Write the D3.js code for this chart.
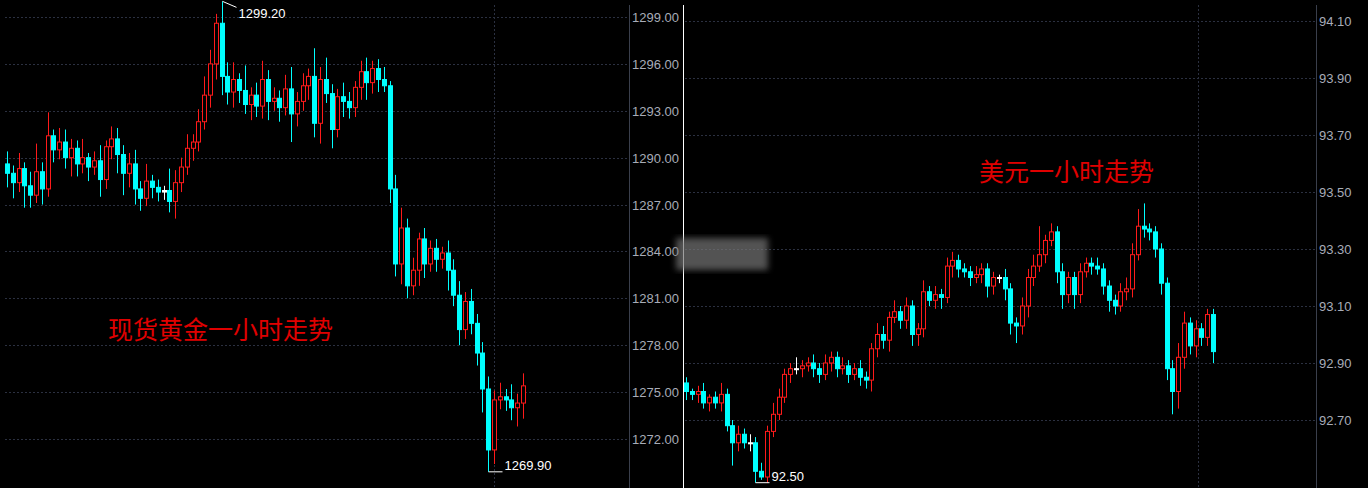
<!DOCTYPE html>
<html><head><meta charset="utf-8">
<script src="https://cdn.jsdelivr.net/npm/d3@7"></script>
<style>body{margin:0;background:#000}svg{display:block}</style>
</head><body><svg id="c" width="1368" height="488"></svg>
<script>
// gold, 1h closes (open = previous close)
const goldOpen0 = 1289.6;
const goldClose = [1289.0,1288.4,1289.3,1288.2,1287.6,1289.1,1288.0,1291.4,1290.5,1291.0,
  1290.0,1290.6,1289.6,1290.0,1289.4,1289.8,1288.6,1290.7,1291.2,1290.2,
  1289.0,1289.6,1288.0,1287.4,1288.5,1288.1,1287.8,1287.9,1287.2,1288.4,
  1289.4,1290.6,1291.0,1292.3,1294.0,1296.0,1298.6,1295.2,1294.2,1295.0,
  1294.3,1293.4,1294.0,1293.3,1295.0,1293.6,1293.8,1293.2,1294.4,1292.8,
  1293.6,1294.6,1295.2,1292.2,1295.0,1294.1,1291.8,1293.9,1293.6,1293.2,
  1294.5,1295.5,1294.8,1295.7,1295.0,1294.6,1288.0,1283.2,1285.5,1281.8,
  1282.8,1284.8,1283.2,1284.2,1283.5,1283.9,1282.8,1281.2,1279.0,1280.8,
  1279.4,1277.5,1275.2,1271.3,1274.5,1274.7,1274.5,1274.0,1274.3,1275.4];
const goldUp = [0.8,0.5,1.0,0.4,0.9,1.8,0.6,1.5,0.4,0.9,0.8,0.6,0.5,1.2,0.3,0.6,1.0,0.4,0.8,0.7,
  0.6,0.7,0.9,0.5,1.1,0.4,0.5,0.3,1.4,0.8,0.6,0.9,0.5,0.8,1.2,0.9,0.6,1.4,0.9,1.1,
  0.4,1.6,0.5,0.8,1.2,0.6,0.7,0.5,0.9,1.4,0.6,0.8,0.5,1.8,0.8,1.4,0.6,0.5,0.9,0.6,
  0.4,0.7,0.9,0.5,0.6,0.8,0.3,0.9,1.3,0.6,0.8,0.4,0.7,0.5,0.6,0.4,0.8,0.7,0.9,0.6,
  0.8,0.6,0.7,0.8,0.6,0.9,0.5,1.0,0.6,0.8];
const goldDown = [0.9,1.0,0.6,1.4,0.8,0.5,1.0,0.5,0.8,0.6,0.7,1.2,0.8,0.6,0.9,0.5,1.1,0.6,0.8,1.2,
  1.4,0.9,1.0,0.8,0.5,0.7,0.6,0.5,0.7,1.1,0.6,0.5,0.8,0.6,0.5,0.8,1.0,1.2,0.8,1.0,
  0.8,0.6,1.0,0.7,0.8,1.2,0.6,0.9,0.5,1.8,0.8,0.6,0.9,0.9,1.3,0.6,1.2,0.5,1.0,0.7,
  0.6,0.8,1.1,0.7,0.8,0.4,0.9,0.8,1.3,0.8,0.6,1.0,0.9,0.5,0.8,0.6,1.3,0.7,1.0,0.6,
  0.7,0.8,1.5,1.4,0.9,0.6,0.7,0.8,1.2,1.0];
const goldTicks = [1299,1296,1293,1290,1287,1284,1281,1278,1275,1272];

// dollar index, 1h closes
const usdOpen0 = 92.83;
const usdClose = [92.80,92.79,92.80,92.76,92.78,92.76,92.79,92.68,92.62,92.65,92.62,92.62,
  92.52,92.50,92.66,92.72,
  92.78,92.86,92.88,92.88,92.89,92.90,92.88,92.86,92.90,92.92,
  92.88,92.89,92.86,92.88,92.85,92.84,92.95,93.00,92.98,93.06,
  93.08,93.05,93.10,93.00,93.02,93.15,93.12,93.14,93.13,93.24,
  93.26,93.23,93.22,93.20,93.21,93.23,93.17,93.20,93.20,93.16,
  93.04,93.03,93.10,93.20,93.24,93.28,93.33,93.36,93.22,93.14,
  93.20,93.14,93.22,93.25,93.24,93.23,93.17,93.12,93.10,93.15,
  93.16,93.28,93.38,93.37,93.36,93.30,
  93.18,92.88,92.80,92.92,93.04,92.96,93.02,92.99,93.07,92.94];
const usdUp = [0.02,0.01,0.02,0.03,0.01,0.02,0.04,0.02,0.02,0.03,0.02,0.03,0.02,0.03,0.02,0.04,
  0.03,0.02,0.02,0.04,0.02,0.02,0.03,0.02,0.03,0.02,0.02,0.03,0.02,0.02,0.03,0.02,0.02,0.04,0.03,0.02,
  0.04,0.02,0.03,0.02,0.02,0.04,0.02,0.03,0.02,0.03,0.03,0.02,0.02,0.02,0.03,0.02,0.02,0.02,0.01,0.03,
  0.02,0.02,0.03,0.03,0.04,0.10,0.02,0.03,0.02,0.03,0.02,0.02,0.03,0.02,0.02,0.03,0.02,0.02,0.02,0.03,
  0.04,0.04,0.06,0.08,0.02,0.02,
  0.02,0.02,0.03,0.05,0.04,0.02,0.03,0.02,0.02,0.02];
const usdDown = [0.03,0.02,0.03,0.02,0.03,0.02,0.03,0.02,0.08,0.03,0.02,0.03,0.04,0.01,0.02,0.02,
  0.02,0.02,0.03,0.02,0.03,0.02,0.03,0.03,0.02,0.03,0.03,0.02,0.03,0.02,0.03,0.03,0.04,0.03,0.03,0.04,
  0.02,0.03,0.03,0.04,0.04,0.03,0.02,0.03,0.04,0.02,0.04,0.03,0.02,0.03,0.02,0.03,0.04,0.03,0.02,0.04,
  0.04,0.06,0.03,0.04,0.03,0.02,0.03,0.02,0.04,0.05,0.03,0.05,0.03,0.02,0.03,0.02,0.03,0.04,0.03,0.02,
  0.03,0.03,0.02,0.03,0.03,0.03,
  0.04,0.04,0.08,0.06,0.04,0.03,0.04,0.03,0.03,0.04];
const usdTicks = [94.10,93.90,93.70,93.50,93.30,93.10,92.90,92.70];

const svg = d3.select("#c");
svg.append("rect").attr("width",1368).attr("height",488).attr("fill","#000");

function buildBars(open0, closes, up, down) {
  return closes.map((c, i) => {
    const o = i ? closes[i - 1] : open0;
    return {i, o, c, h: Math.max(o, c) + up[i], l: Math.min(o, c) - down[i]};
  });
}

function panel(bars, ticks, opt) {
  const x = d3.scaleLinear().domain([0, bars.length - 1]).range(opt.xr);
  const y = d3.scaleLinear().domain(opt.yd).range([opt.y0, opt.y1]);
  const g = svg.append("g");

  // grid
  g.selectAll(".gy").data(ticks).join("line")
    .attr("x1", opt.left).attr("x2", opt.axisX)
    .attr("y1", d => Math.round(y(d)) + 0.5).attr("y2", d => Math.round(y(d)) + 0.5)
    .attr("stroke", "#2b3040").attr("stroke-dasharray", "2,2");
  g.append("line").attr("x1", opt.vgrid + 0.5).attr("x2", opt.vgrid + 0.5)
    .attr("y1", 5).attr("y2", 488).attr("stroke", "#2b3040").attr("stroke-dasharray", "2,2");
  g.append("line").attr("x1", opt.axisX + 0.5).attr("x2", opt.axisX + 0.5)
    .attr("y1", 5).attr("y2", 488).attr("stroke", "#3a3f4c");

  g.selectAll(".tl").data(ticks).join("text")
    .attr("x", opt.axisX + 3).attr("y", d => y(d) + 5)
    .attr("fill", "#a8acb8").attr("font-family", "Liberation Sans, Arial")
    .attr("font-size", 13).text(d => d.toFixed(2));

  const w = opt.bw;
  const col = d => Math.abs(d.c - d.o) < opt.eps ? "#fff" : (d.c > d.o ? "#ff1a1a" : "#00ffff");
  const cg = g.selectAll(".k").data(bars).join("g");
  cg.append("line")
    .attr("x1", d => Math.round(x(d.i)) + 0.5).attr("x2", d => Math.round(x(d.i)) + 0.5)
    .attr("y1", d => y(d.h)).attr("y2", d => y(d.l)).attr("stroke", col);
  cg.append("rect")
    .attr("x", d => Math.round(x(d.i)) - w / 2 + 1)
    .attr("y", d => y(Math.max(d.o, d.c)))
    .attr("width", w - 1)
    .attr("height", d => Math.max(1, Math.abs(y(d.o) - y(d.c))))
    .attr("fill", d => d.c > d.o && Math.abs(d.c - d.o) >= opt.eps ? "#000" : col(d))
    .attr("stroke", col);
  return {x, y};
}

const gold = buildBars(goldOpen0, goldClose, goldUp, goldDown);
const gp = panel(gold, goldTicks, {xr: [7, 523], yd: [1299, 1272], y0: 17, y1: 439,
  left: 5, axisX: 629, vgrid: 494, bw: 5, eps: 0.15});

const usd = buildBars(usdOpen0, usdClose, usdUp, usdDown);
const up = panel(usd, usdTicks, {xr: [686, 1213], yd: [94.10, 92.70], y0: 21, y1: 420,
  left: 685, axisX: 1316, vgrid: 1198, bw: 5, eps: 0.005});

// max/min labels
function mark(p, bars, key, label, dir) {
  const b = key === "h" ? bars.reduce((a, d) => d.h > a.h ? d : a) : bars.reduce((a, d) => d.l < a.l ? d : a);
  const px = Math.round(p.x(b.i)) + 0.5, py = p.y(b[key]);
  if (dir === "up") {
    svg.append("polyline").attr("points", `${px},${py} ${px + 14},${py + 6}`)
      .attr("stroke", "#fff").attr("fill", "none");
    svg.append("text").attr("x", px + 16).attr("y", py + 17).text(label);
  } else {
    svg.append("line").attr("x1", px).attr("x2", px + 14).attr("y1", py).attr("y2", py).attr("stroke", "#fff");
    svg.append("text").attr("x", px + 16).attr("y", py - 2).text(label);
  }
}
mark(gp, gold, "h", "1299.20", "up");
mark(gp, gold, "l", "1269.90", "down");
mark(up, usd, "l", "92.50", "down");
svg.selectAll("text").filter(function(){ return !this.getAttribute("fill"); })
  .attr("fill", "#fff").attr("font-family", "Liberation Sans, Arial").attr("font-size", 13);

// divider
svg.append("line").attr("x1", 683.5).attr("x2", 683.5).attr("y1", 5).attr("y2", 488)
  .attr("stroke", "#fff");

// blurred patch
svg.append("defs").append("filter").attr("id", "bl").append("feGaussianBlur").attr("stdDeviation", 3);
svg.append("rect").attr("x", 676).attr("y", 238).attr("width", 92).attr("height", 32)
  .attr("fill", "#777").attr("opacity", 0.7).attr("filter", "url(#bl)");

// titles
svg.append("text").attr("x", 108).attr("y", 339).text("现货黄金一小时走势")
  .attr("fill", "#e00000").attr("font-family", "Noto Sans CJK SC").attr("font-size", 25);
svg.append("text").attr("x", 979).attr("y", 181).text("美元一小时走势")
  .attr("fill", "#e00000").attr("font-family", "Noto Sans CJK SC").attr("font-size", 25);
</script></body></html>
